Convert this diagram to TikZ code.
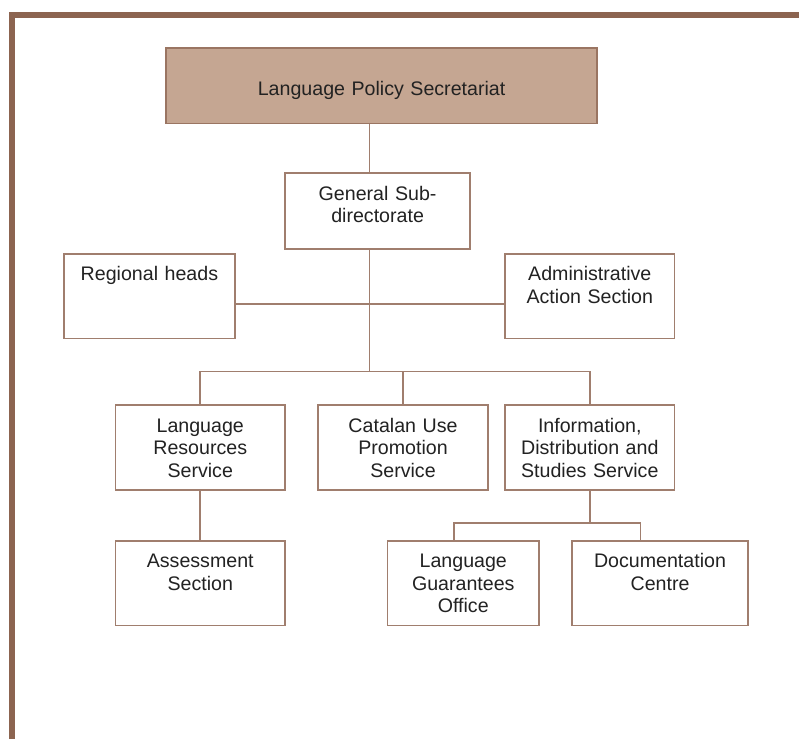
\documentclass[tikz,border=0pt]{standalone}
\usepackage{fontspec}
\setmainfont{Liberation Sans}
\definecolor{frame}{HTML}{8C6450}
\definecolor{head}{HTML}{C5A692}
\definecolor{headline}{HTML}{9A7562}
\definecolor{boxline}{HTML}{A07E6E}
\definecolor{ink}{HTML}{222222}

\begin{document}
\begin{tikzpicture}[x=0.025cm, y=-0.025cm, line width=1.2pt,
  unit/.style={draw=boxline, inner sep=0pt, anchor=north, align=center, text=ink,
    font=\fontsize{14}{16}\selectfont, text height=0.675cm, text depth=1.45cm},
  link/.style={draw=boxline}]
\path[fill=white] (0,0) rectangle (802,742);
% frame, open to the right and below
\draw[frame, line width=0.15cm] (12,742) -- (12,15.5) -- (802,15.5);
%% box Secretariat
\node (lps) at (383,47) [unit, draw=headline, fill=head, text width=10.8cm,
  text height=1.2cm, text depth=0.7cm] {Language Policy Secretariat};
%% second level
\node (sub) at (379,173) [unit, text width=4.65cm, text depth=1.225cm] {General Sub-\\directorate};
\node (regional) at (150,254) [unit, text width=4.3cm] {Regional heads};
\node (admin) at (592,254) [unit, text width=4.25cm] {Administrative\\Action Section};
%% services
\node (lrs) at (201,406) [unit, text width=4.25cm] {Language\\Resources\\Service};
\node (catalan) at (404.5,406) [unit, text width=4.275cm] {Catalan Use\\Promotion\\Service};
\node (info) at (592,406) [unit, text width=4.25cm] {Information,\\Distribution and\\Studies Service};
%% bottom row
\node (assess) at (201,542) [unit, text width=4.25cm] {Assessment\\Section};
\node (lgo) at (465,542) [unit, text width=3.8cm] {Language\\Guarantees\\Office};
\node (doc) at (662.5,542) [unit, text width=4.425cm] {Documentation\\Centre};
% connectors
\coordinate (trunk) at (371,305);
\coordinate (split) at (371,373);
\coordinate (fork) at (592,525);
\draw[link] (trunk |- lps.south) -- (trunk |- sub.north);
\draw[link] (trunk |- sub.south) -- (split);
\draw[link] (trunk -| regional.east) -- (trunk -| admin.west);
\draw[link] (split) -| (lrs.north);
\draw[link] (split) -| (info.north);
\draw[link] (catalan.north) -- (catalan.north |- split);
\draw[link] (lrs.south) -- (assess.north);
\draw[link] (info.south) -- (fork);
\draw[link] ([xshift=-0.225cm]lgo.north) |- (fork) -| ([xshift=-0.4875cm]doc.north);
\end{tikzpicture}
\end{document}
